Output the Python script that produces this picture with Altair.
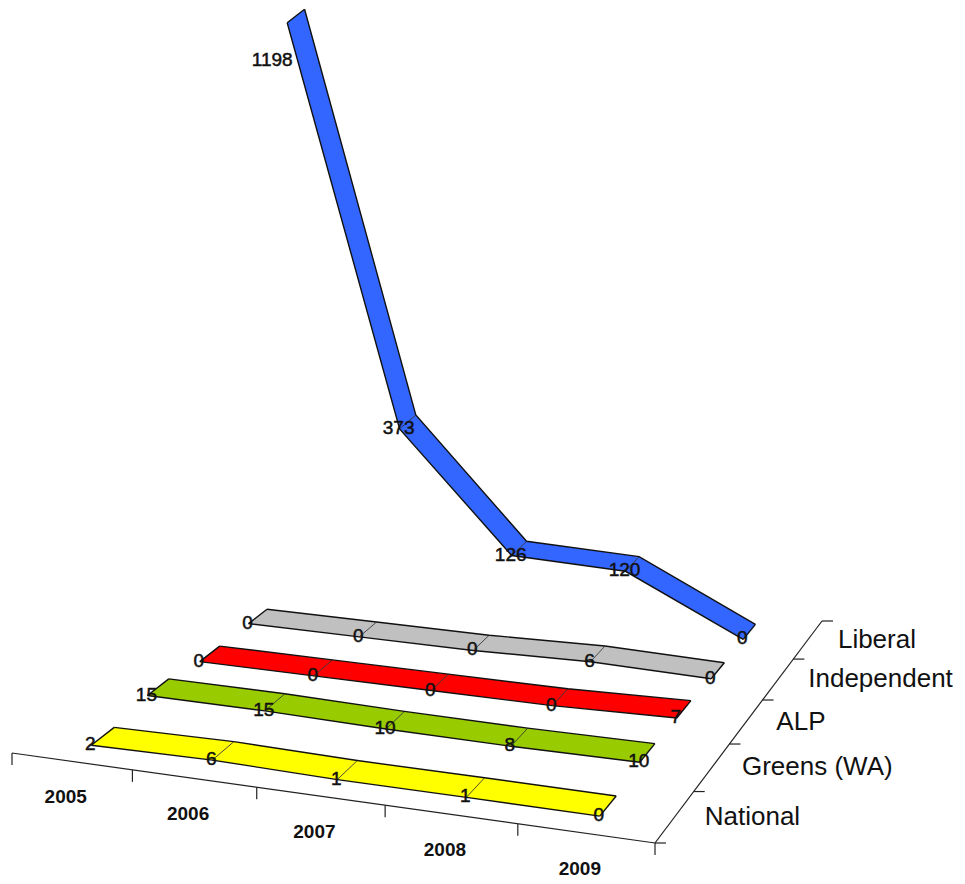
import numpy as np
import pandas as pd
import altair as alt

years = ["2005", "2006", "2007", "2008", "2009"]
parties = ["National", "Greens (WA)", "ALP", "Independent", "Liberal"]
colors = ["#FFFF00", "#99CC00", "#FF0000", "#C0C0C0", "#3366FF"]
national = [2, 6, 1, 1, 0]
greens = [15, 15, 10, 8, 10]
alp = [0, 0, 0, 0, 7]
independent = [0, 0, 0, 6, 0]
liberal = [1198, 373, 126, 120, 0]
series = [national, greens, alp, independent, liberal]

# Floor-plane perspective: corners of the 5x5 floor on the page
src = [(0, 0), (5, 0), (5, 5), (0, 5)]
dst = [(12, 753), (655, 843), (822, 621), (271, 560)]
A, b = [], []
for (u, v), (x, y) in zip(src, dst):
    A.append([u, v, 1, 0, 0, 0, -u * x, -v * x]); b.append(x)
    A.append([0, 0, 0, u, v, 1, -u * y, -v * y]); b.append(y)
h = np.linalg.solve(np.array(A, float), np.array(b, float))


def proj(u, v, z=0.0):
    w = h[6] * u + h[7] * v + 1
    x = (h[0] * u + h[1] * v + h[2]) / w
    y = (h[3] * u + h[4] * v + h[5]) / w
    s = 0.455 * z / (1 - 3e-5 * z)
    return x - 0.012 * s, y - s


V_FRONT, V_BACK = 0.33, 0.73
polys, edges = [], []
labels = []
eid = 0
for i, (name, vals) in enumerate(zip(parties, series)):
    front = [proj(k + 0.5, i + V_FRONT, z) for k, z in enumerate(vals)]
    back = [proj(k + 0.5, i + V_BACK, z) for k, z in enumerate(vals)]
    for k in range(4):
        ring = [front[k], front[k + 1], back[k + 1], back[k], front[k]]
        for o, (x, y) in enumerate(ring):
            polys.append(dict(seg=f"{i}-{k}", party=name, o=o, x=x, y=y))
    for pts, kind in [(front, "m"), (back, "m"), ([front[0], back[0]], "m"), ([front[4], back[4]], "m")]:
        for o, (x, y) in enumerate(pts):
            edges.append(dict(e=eid, o=o, x=x, y=y, kind=kind))
        eid += 1
    for k in (1, 2, 3):
        for o, (x, y) in enumerate([front[k], back[k]]):
            edges.append(dict(e=eid, o=o, x=x, y=y, kind="t"))
        eid += 1
    for k, z in enumerate(vals):
        x, y = front[k]
        dx, dy = (-15, 37) if z == 1198 else (-1, -1)
        labels.append(dict(x=x + dx, y=y + dy, t=str(z)))

axes = []
aid = 0


def seg(p, q):
    global aid
    for o, (x, y) in enumerate([p, q]):
        axes.append(dict(e=aid, o=o, x=x, y=y))
    aid += 1


seg(proj(0, 0), proj(5, 0))
seg(proj(5, 0), proj(5, 5))
for k in range(6):
    x, y = proj(k, 0)
    seg((x, y), (x, y + 12))
for k in range(6):
    x, y = proj(5, k)
    seg((x, y), (x + 11, y))

ylabels = []
for k, t in enumerate(years):
    x, y = proj(k + 0.5, 0)
    ylabels.append(dict(x=x - 6, y=y + 36, t=t))
plabels = []
for i, t in enumerate(parties):
    x, y = proj(5, i + 0.5)
    plabels.append(dict(x=x + 30, y=y, t=t))

X = alt.X("x:Q", scale=alt.Scale(domain=[8, 957], range=[0, 949]), axis=None)
Y = alt.Y("y:Q", scale=alt.Scale(domain=[8, 884], range=[0, 876]), axis=None)

poly = alt.Chart(pd.DataFrame(polys)).mark_line(filled=True, strokeWidth=0).encode(
    x=X, y=Y, order="o:Q", detail="seg:N",
    fill=alt.Fill("party:N", scale=alt.Scale(domain=parties, range=colors), legend=None),
)
edge_df = pd.DataFrame(edges)
main = alt.Chart(edge_df[edge_df.kind == "m"]).mark_line(color="#111111", strokeWidth=1.4).encode(
    x=X, y=Y, order="o:Q", detail="e:N")
thin = alt.Chart(edge_df[edge_df.kind == "t"]).mark_line(color="#222222", strokeWidth=0.8).encode(
    x=X, y=Y, order="o:Q", detail="e:N")
axis_lines = alt.Chart(pd.DataFrame(axes)).mark_line(color="#222222", strokeWidth=1.2).encode(
    x=X, y=Y, order="o:Q", detail="e:N")
val_text = alt.Chart(pd.DataFrame(labels)).mark_text(
    font="Liberation Sans", fontSize=19, color="#111111", stroke="#111111", strokeWidth=0.5, align="center", baseline="middle"
).encode(x=X, y=Y, text="t:N")
year_text = alt.Chart(pd.DataFrame(ylabels)).mark_text(
    font="Liberation Sans", fontSize=19, fontWeight="bold", color="#111111", align="center", baseline="middle"
).encode(x=X, y=Y, text="t:N")
party_text = alt.Chart(pd.DataFrame(plabels)).mark_text(
    font="Liberation Sans", fontSize=26, color="#111111", align="left", baseline="middle"
).encode(x=X, y=Y, text="t:N")

chart = alt.layer(poly, main, thin, axis_lines, val_text, year_text, party_text).properties(
    width=949, height=876, padding=0, autosize=alt.AutoSizeParams(type="none")
).configure_view(stroke=None)

chart.save("out.html", embed_options={"renderer": "svg", "actions": False})
